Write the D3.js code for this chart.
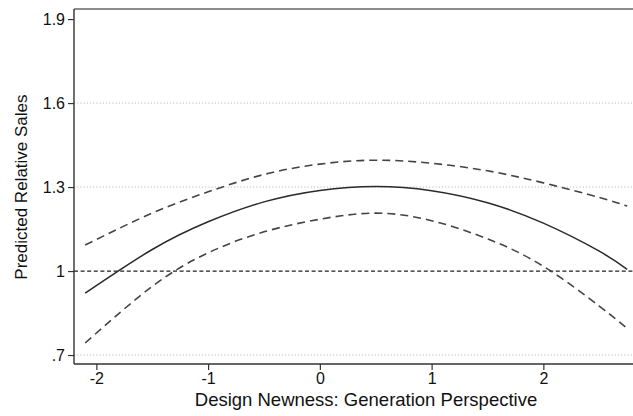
<!DOCTYPE html>
<html>
<head>
<meta charset="utf-8">
<script src="https://cdn.jsdelivr.net/npm/d3@7"></script>
<style>
  body { margin: 0; background: #fff; }
  svg { display: block; }
  text { font-family: "Liberation Sans", Arial, sans-serif; fill: #111; }
</style>
</head>
<body>
<div id="chart"></div>
<script>
// predicted relative sales vs design newness
const xs = [-2.1, -1.5, -1.0, -0.5, 0, 0.5, 1.0, 1.5, 2.0, 2.5, 2.75];
const predicted = [0.921, 1.077, 1.176, 1.247, 1.288, 1.302, 1.287, 1.244, 1.171, 1.071, 1.006];
const upperCI = [1.093, 1.207, 1.283, 1.345, 1.382, 1.396, 1.385, 1.358, 1.315, 1.263, 1.232];
const lowerCI = [0.743, 0.945, 1.065, 1.140, 1.185, 1.207, 1.180, 1.115, 1.017, 0.875, 0.795];

const yTicks = [0.7, 1, 1.3, 1.6, 1.9];
const yTickLabels = [".7", "1", "1.3", "1.6", "1.9"];
const gridTicks = [0.7, 1.3, 1.6];
const xTicks = [-2, -1, 0, 1, 2];

const width = 633, height = 416;
const margin = { top: 9, right: -2, bottom: 52, left: 74 };

const svg = d3.select("#chart")
    .append("svg")
    .attr("width", width)
    .attr("height", height);

const x = d3.scaleLinear()
    .domain([-2.2, 2.82])
    .range([margin.left, width - margin.right]);

const y = d3.scaleLinear()
    .domain([0.668, 1.936])
    .range([height - margin.bottom, margin.top]);

// dotted grid
svg.append("g")
    .selectAll("line")
    .data(gridTicks)
    .enter()
    .append("line")
    .attr("x1", margin.left)
    .attr("x2", width)
    .attr("y1", d => y(d))
    .attr("y2", d => y(d))
    .attr("stroke", "#bbb")
    .attr("stroke-width", 1)
    .attr("stroke-dasharray", "1.2,2");

// reference line at 1
svg.append("line")
    .attr("x1", margin.left)
    .attr("x2", width)
    .attr("y1", y(1))
    .attr("y2", y(1))
    .attr("stroke", "#222")
    .attr("stroke-width", 1.3)
    .attr("stroke-dasharray", "4,2.6");

// frame top
svg.append("line")
    .attr("x1", margin.left)
    .attr("x2", width)
    .attr("y1", margin.top)
    .attr("y2", margin.top)
    .attr("stroke", "#666")
    .attr("stroke-width", 1.4);

const line = d3.line()
    .x(d => x(d[0]))
    .y(d => y(d[1]))
    .curve(d3.curveNatural);

svg.append("path")
    .datum(d3.zip(xs, upperCI))
    .attr("d", line)
    .attr("fill", "none")
    .attr("stroke", "#444")
    .attr("stroke-width", 1.6)
    .attr("stroke-dasharray", "8,5");

svg.append("path")
    .datum(d3.zip(xs, lowerCI))
    .attr("d", line)
    .attr("fill", "none")
    .attr("stroke", "#444")
    .attr("stroke-width", 1.6)
    .attr("stroke-dasharray", "8,5");

svg.append("path")
    .datum(d3.zip(xs, predicted))
    .attr("d", line)
    .attr("fill", "none")
    .attr("stroke", "#2a2a2a")
    .attr("stroke-width", 1.5);

// axes
const yAxis = d3.axisLeft(y)
    .tickValues(yTicks)
    .tickFormat((d, i) => yTickLabels[i])
    .tickSize(6)
    .tickPadding(3);

const gy = svg.append("g")
    .attr("transform", `translate(${margin.left},0)`)
    .call(yAxis);

const xAxis = d3.axisBottom(x)
    .tickValues(xTicks)
    .tickFormat(d3.format("d"))
    .tickSize(6)
    .tickPadding(3);

const gx = svg.append("g")
    .attr("transform", `translate(0,${height - margin.bottom})`)
    .call(xAxis);

gy.select(".domain").attr("d", `M0,${margin.top}V${height - margin.bottom}`);
gx.select(".domain").attr("d", `M${margin.left},0H${width}`);

[gx, gy].forEach(g => {
    g.select(".domain").attr("stroke", "#333").attr("stroke-width", 1.4);
    g.selectAll(".tick line").attr("stroke", "#333").attr("stroke-width", 1.2);
    g.selectAll(".tick text")
        .attr("fill", "#111")
        .style("font-family", "'Liberation Sans', Arial, sans-serif")
        .style("font-size", "16px");
});
gx.selectAll(".tick text").text(d => d < 0 ? "-" + Math.abs(d) : d);

svg.append("text")
    .attr("x", 366)
    .attr("y", 406)
    .attr("text-anchor", "middle")
    .style("font-size", "18.5px")
    .text("Design Newness: Generation Perspective");

svg.append("text")
    .attr("transform", `translate(27,${y(1.3)}) rotate(-90)`)
    .attr("text-anchor", "middle")
    .style("font-size", "17px")
    .text("Predicted Relative Sales");
</script>
</body>
</html>
